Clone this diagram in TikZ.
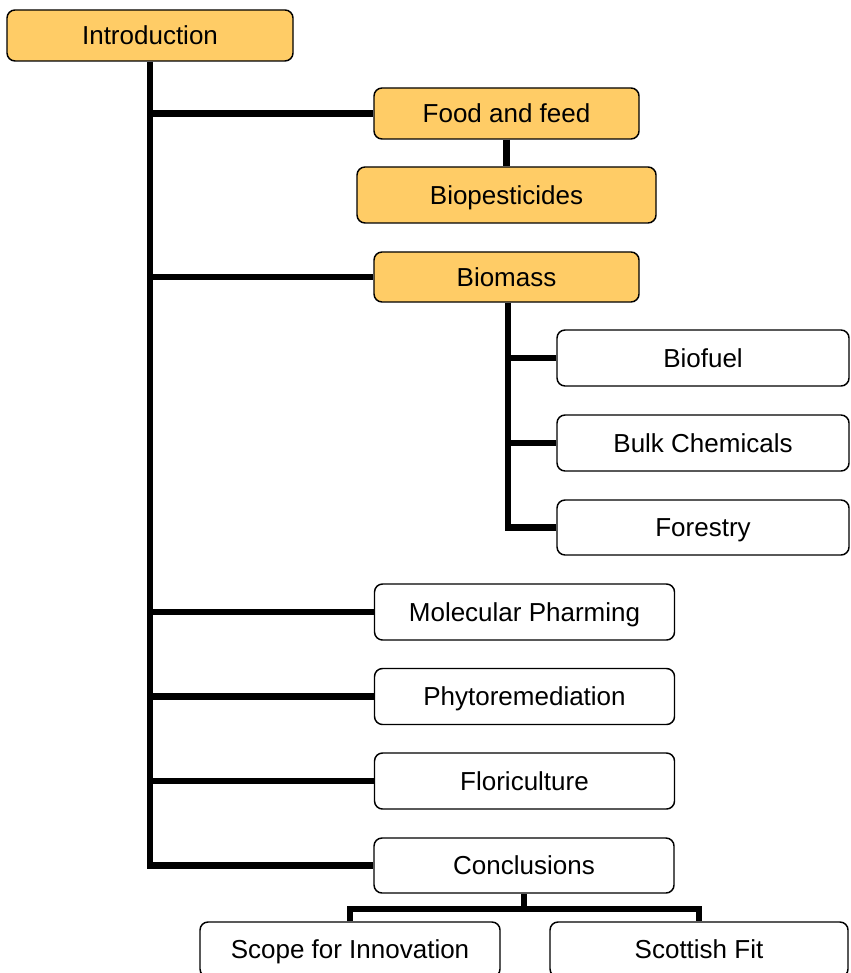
\documentclass[tikz,border=0pt]{standalone}
\usepackage{fontspec}
\setmainfont{Liberation Sans}
\usetikzlibrary{calc}
\pgfdeclarelayer{background}
\pgfsetlayers{background,main}
\definecolor{topicfill}{HTML}{FFCC66}

\begin{document}
\begin{tikzpicture}[x=0.75pt, y=-0.75pt,
  box/.style={draw=black, line width=1.1pt, rounded corners=6pt,
    fill=white, inner sep=0pt, align=center,
    font=\fontsize{19.5}{23}\selectfont,
    text height=15pt, text depth=1pt},
  topic/.style={box, fill=topicfill},
  wbox/.style 2 args={minimum width=#1*0.75pt, minimum height=#2*0.75pt},
  trunk/.style={line width=4.8pt, line join=miter, line cap=butt}]

\useasboundingbox (0,0) rectangle (850,973);
\clip (0,0) rectangle (850,973);

% top-level chapters
\node[topic, wbox={286}{51}] (intro)   at (150,35.5)   {Introduction};
\node[topic, wbox={265}{51}] (food)    at (506.5,113.5) {Food and feed};
\node[topic, wbox={299}{56}] (biopest) at (506.5,195)  {Biopesticides};
\node[topic, wbox={265}{50}] (biomass) at (506.5,277)  {Biomass};

% biomass sub-sections
\node[box, wbox={292}{56}] (biofuel)  at (703,358)   {Biofuel};
\node[box, wbox={292}{56}] (bulk)     at (703,443)   {Bulk Chemicals};
\node[box, wbox={292}{55}] (forestry) at (703,527.5) {Forestry};

% remaining chapters
\node[box, wbox={300}{56}] (pharm)  at (524.5,612)   {Molecular Pharming};
\node[box, wbox={300}{56}] (phyto)  at (524.5,696.5) {Phytoremediation};
\node[box, wbox={300}{56}] (flori)  at (524.5,781)   {Floriculture};
\node[box, wbox={300}{55}] (concl)  at (524,865.5)   {Conclusions};

% conclusion sub-sections
\node[box, wbox={300}{55}] (scope)    at (350,949.5) {Scope for Innovation};
\node[box, wbox={298}{55}] (scottish) at (699,949.5) {Scottish Fit};

\coordinate (bar) at (524,909);

\begin{pgfonlayer}{background}
  % main trunk and its branches
  \draw[trunk] (intro.south) |- (concl.west);
  \foreach \n in {food,biomass,pharm,phyto,flori}
    \draw[trunk] (intro.south |- \n.west) -- (\n.west);
  \draw[trunk] (food.south) -- (biopest.north);
  % biomass branch
  \draw[trunk] ([xshift=1.1pt]biomass.south) |- (forestry.west);
  \foreach \n in {biofuel,bulk}
    \draw[trunk] ([xshift=1.1pt]biomass.south |- \n.west) -- (\n.west);
  % conclusions branch
  \draw[trunk] (concl.south) -- (bar);
  \draw[trunk] (scope.north) |- (bar) -| (scottish.north);
\end{pgfonlayer}
\end{tikzpicture}
\end{document}
